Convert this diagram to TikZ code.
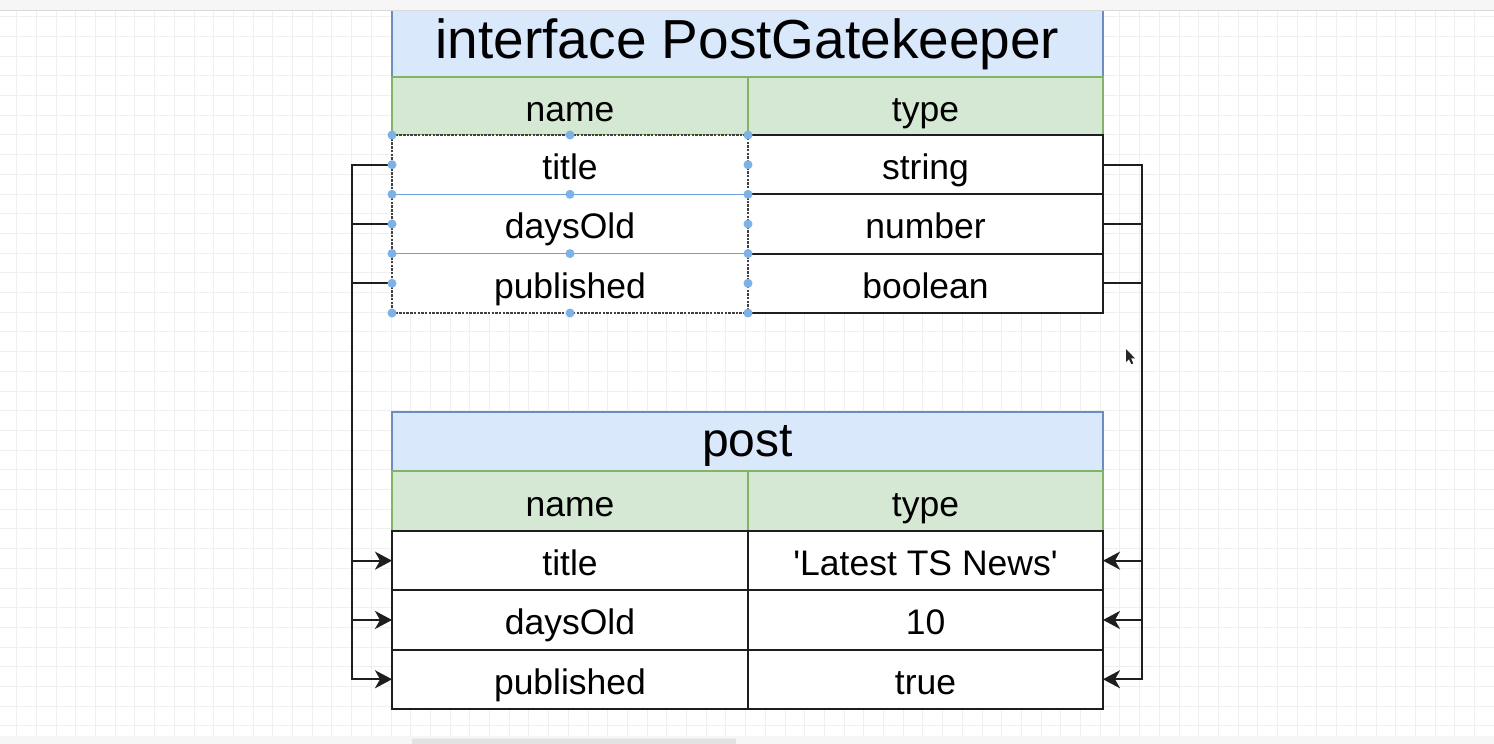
\documentclass[tikz,border=0pt]{standalone}
\usepackage{fontspec}
\setmainfont{Liberation Sans}
\newfontfamily\plainsans{Liberation Sans}[Ligatures=ResetAll]
\usetikzlibrary{arrows.meta}
\definecolor{tfill}{HTML}{DAE8FC}
\definecolor{tline}{HTML}{6C8EBF}
\definecolor{hfill}{HTML}{D5E8D4}
\definecolor{hline}{HTML}{82B366}
\definecolor{linec}{HTML}{1E1E1E}
\definecolor{gridc}{HTML}{EFEFEF}
\definecolor{selblue}{HTML}{6C9FD6}
\definecolor{dotblue}{HTML}{7DB2E6}
\definecolor{stripc}{HTML}{F6F6F6}
\definecolor{barc}{HTML}{E2E2E2}
\begin{document}
\begin{tikzpicture}[x=1pt,y=-1pt,
  base/.style={inner sep=0pt, outer sep=0pt, anchor=north west, text height=30pt, text depth=0pt},
  cellbox/.style={base, draw=linec, line width=2.2pt, fill=white, minimum width=356pt, minimum height=59.3pt, font=\fontsize{35.5}{36}\selectfont},
  typebox/.style={cellbox, minimum width=355pt},
  selcell/.style={cellbox, draw=none},
  headbox/.style={base, draw=hline, line width=1.5pt, fill=hfill, minimum width=356pt, font=\fontsize{35.5}{36}\selectfont},
  titlebox/.style={base, draw=tline, line width=1.5pt, fill=tfill, minimum width=711pt},
  conn/.style={draw=linec, line width=2.2pt},
  arr/.style={conn, -{Stealth[length=17pt,width=18pt,inset=5pt]}},
  gridline/.style={draw=gridc, line width=1pt},
  seldot/.style={fill=dotblue, draw=none}
]
\useasboundingbox (0,0) rectangle (1494,744);
\fill[white] (0,0) rectangle (1494,744);
% grid
\foreach \i in {0,...,75} { \draw[gridline] ({16.7+19.7*\i},0) -- ({16.7+19.7*\i},744); }
\foreach \i in {0,...,37} { \draw[gridline] (0,{16.7+19.7*\i}) -- (1494,{16.7+19.7*\i}); }

% ---------- table 1 ----------
\node[titlebox, minimum height=67pt, font=\fontsize{55}{56}\selectfont] (ta) at (392,10) {interface PostGatekeeper};
\node[headbox, minimum height=58pt] (ahn) at (392,77) {name};
\node[headbox, minimum height=58pt, minimum width=355pt] (aht) at (748,77) {type};
\node[selcell] (an1) at (392,135) {title};
\node[selcell] (an2) at (392,194.3) {daysOld};
\node[selcell] (an3) at (392,253.6) {published};
\node[typebox] (at1) at (748,135) {string};
\node[typebox] (at2) at (748,194.3) {number};
\node[typebox] (at3) at (748,253.6) {boolean};

% ---------- table 2 ----------
\node[titlebox, minimum height=59pt, font=\fontsize{48}{50}\selectfont] (tb) at (392,412) {post};
\node[headbox, minimum height=60pt] (bhn) at (392,471) {name};
\node[headbox, minimum height=60pt, minimum width=355pt] (bht) at (748,471) {type};
\node[cellbox] (bn1) at (392,531) {title};
\node[cellbox] (bn2) at (392,590.3) {daysOld};
\node[cellbox] (bn3) at (392,649.6) {published};
\node[typebox] (bt1) at (748,531) {\plainsans 'Latest TS News'};
\node[typebox] (bt2) at (748,590.3) {10};
\node[typebox] (bt3) at (748,649.6) {true};

% ---------- connectors ----------
\draw[arr] (an1.west) -- ++(-40,0) |- (bn1.west);
\draw[arr] (an2.west) -- ++(-40,0) |- (bn2.west);
\draw[arr] (an3.west) -- ++(-40,0) |- (bn3.west);
\draw[arr] (at1.east) -- ++(39,0) |- (bt1.east);
\draw[arr] (at2.east) -- ++(39,0) |- (bt2.east);
\draw[arr] (at3.east) -- ++(39,0) |- (bt3.east);

% ---------- selection overlay ----------
\draw[white, line width=2.6pt] (748,135) -- (748,313);
\draw[selblue, line width=1.6pt] (392,194.3) -- (748,194.3);
\draw[selblue, line width=1.6pt] (392,253.6) -- (748,253.6);
\draw[linec!85, line width=1.5pt, dash pattern=on 2.5pt off 1.2pt] (392,135) rectangle (748,313);
\foreach \yy in {135,164.7,194.3,224,253.6,283.3,313} {
  \fill[seldot] (392,\yy) circle (4.5pt);
  \fill[seldot] (748,\yy) circle (4.5pt);
}
\foreach \yy in {135,194.3,253.6,313} { \fill[seldot] (570,\yy) circle (4.5pt); }

% ---------- window chrome ----------
\fill[stripc] (0,0) rectangle (1494,10);
\draw[gridc!80!gray, line width=0.6pt] (0,10) -- (1494,10);
\fill[stripc] (0,736) rectangle (1494,744);
\fill[barc, rounded corners=2pt] (412,738.5) rectangle (736,746);
% mouse pointer
\fill[black!85] (1126,349) -- (1126,362) -- (1129,359.2) -- (1131.3,364.2) -- (1133.3,363.3) -- (1131,358.4) -- (1135,358.4) -- cycle;
\end{tikzpicture}
\end{document}
